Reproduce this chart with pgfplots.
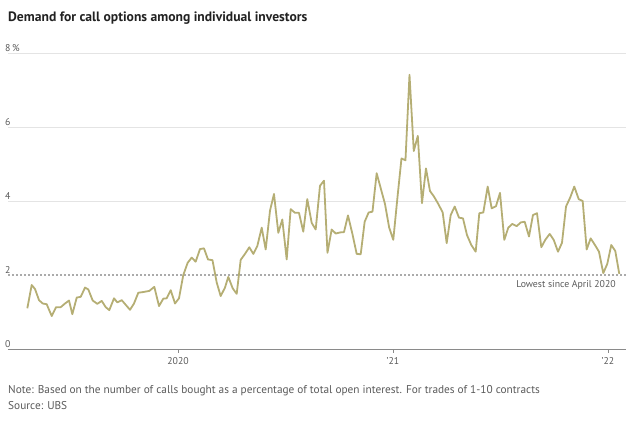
\documentclass[border=0pt]{standalone}
\usepackage{fontspec}
\setmainfont{PT Sans}
\usepackage{pgfplots}
\pgfplotsset{compat=1.18}
\usepackage{pgfplotstable}
\definecolor{linec}{HTML}{B5AE74}
\definecolor{txt}{HTML}{222222}
\definecolor{ticktxt}{HTML}{5A5A5A}
\definecolor{gridc}{HTML}{E4E4E4}
\definecolor{basec}{HTML}{8A8A8A}
\definecolor{dotc}{HTML}{ABABAB}

% px = horizontal position in the reference (2020 at 178, one year = 215), v = percent
\pgfplotstableread{
px v
27.3 1.10
31.7 1.73
35.0 1.62
39.0 1.32
42.7 1.23
46.7 1.21
51.7 0.89
56.0 1.13
60.7 1.13
65.0 1.23
69.0 1.31
72.3 0.94
76.7 1.39
80.7 1.41
85.0 1.66
88.3 1.61
92.7 1.31
97.3 1.22
101.7 1.30
105.7 1.13
109.3 1.05
114.0 1.37
117.3 1.26
121.7 1.32
125.5 1.20
130.0 1.06
134.0 1.23
138.3 1.52
143.3 1.54
149.3 1.57
154.3 1.68
159.0 1.16
163.3 1.36
166.7 1.37
170.7 1.59
175.0 1.23
179.0 1.37
183.3 2.00
187.7 2.33
191.7 2.47
195.7 2.36
200.0 2.70
204.0 2.72
208.0 2.42
212.5 2.40
216.7 1.80
220.7 1.43
225.0 1.66
228.3 1.95
232.7 1.64
236.7 1.49
240.7 2.41
245.0 2.57
249.3 2.75
253.3 2.57
257.3 2.78
261.7 3.28
265.7 2.69
270.0 3.74
274.0 4.19
278.3 3.14
282.3 3.50
286.7 2.42
290.7 3.78
295.0 3.68
299.0 3.68
303.3 3.17
307.3 4.05
311.7 3.41
315.7 3.23
320.0 4.41
324.0 4.55
327.5 2.60
331.7 3.23
335.8 3.12
340.0 3.15
344.0 3.16
348.0 3.61
352.5 3.10
356.7 2.57
360.7 2.56
364.7 3.44
368.7 3.69
372.5 3.71
376.7 4.75
380.8 4.34
385.0 3.92
389.2 3.28
393.3 2.95
397.5 4.10
401.5 5.15
405.5 5.10
409.5 7.41
413.8 5.35
417.8 5.76
422.0 3.94
426.0 4.88
430.0 4.27
434.0 4.12
438.3 3.92
442.7 3.69
446.7 2.86
450.7 3.62
454.7 3.85
459.0 3.55
463.0 3.53
467.0 3.08
471.3 2.81
475.7 2.63
479.3 3.67
483.3 3.69
487.7 4.39
491.7 3.80
496.0 3.86
500.0 4.22
504.3 2.95
508.3 3.28
512.3 3.38
516.7 3.32
520.7 3.42
524.7 3.44
529.0 3.04
533.0 3.62
537.0 3.67
541.3 2.75
545.3 2.95
549.7 3.11
553.7 2.95
558.0 2.63
562.0 2.87
566.0 3.85
570.3 4.10
574.3 4.39
578.7 4.05
582.7 4.00
586.7 2.69
590.7 2.99
595.0 2.81
599.0 2.63
603.3 2.05
607.3 2.30
611.3 2.81
615.3 2.65
619.3 2.03
}\calldata

\begin{document}
\begin{tikzpicture}[x=1pt,y=1pt]
\useasboundingbox (0,0) rectangle (630,423);
\node[anchor=west, font=\bfseries\fontsize{13.6}{15}\selectfont, text=txt, inner sep=0] at (8,405) {Demand for call options among individual investors};
\begin{axis}[
  at={(8pt,74pt)}, anchor=south west,
  scale only axis, width=618pt, height=296pt,
  xmin=2019.2093, xmax=2022.0837, ymin=0, ymax=8,
  axis x line*=bottom, axis y line*=left,
  x axis line style={draw=basec, line width=0.9pt, -},
  y axis line style={draw=none},
  xtick={2020,2021,2022}, xticklabels={2020,’21,’22},
  ytick={0,2,4,6,8}, yticklabels={0,2,4,6,8\,\%},
  tick align=outside, major tick length=4pt,
  xtick style={draw=basec, line width=0.8pt},
  ytick style={draw=none},
  /pgf/number format/assume math mode=true,
  xticklabel style={font=\fontsize{9.8}{11}\selectfont, text=ticktxt, yshift=-1pt},
  yticklabel style={font=\fontsize{9.8}{11}\selectfont, text=ticktxt, anchor=south west, inner sep=1pt, xshift=0pt},
  clip=false,
]
\draw[gridc, line width=0.7pt] (axis cs:2019.2093,4) -- (axis cs:2022.0837,4);
\draw[gridc, line width=0.7pt] (axis cs:2019.2093,6) -- (axis cs:2022.0837,6);
\draw[gridc, line width=0.7pt] (axis cs:2019.2093,8) -- (axis cs:2022.0837,8);
\draw[dotc, line width=1.6pt, dash pattern=on 1.6pt off 2.4pt] (axis cs:2019.2093,2) -- (axis cs:2022.0837,2);
\addplot[linec, line width=1.8pt, line join=round, mark=none] table[x expr={2020+(\thisrow{px}-178)/215}, y=v] {\calldata};
\node[anchor=east, font=\fontsize{9.8}{11}\selectfont, text=ticktxt, inner sep=0] at (axis cs:2022.037,1.73) {Lowest since April 2020};
\end{axis}
\node[anchor=west, font=\fontsize{11.3}{13}\selectfont, text=ticktxt, inner sep=0] at (8,32.3) {Note: Based on the number of calls bought as a percentage of total open interest. For trades of 1-10 contracts};
\node[anchor=west, font=\fontsize{11.3}{13}\selectfont, text=ticktxt, inner sep=0] at (8,17) {Source: UBS};
\end{tikzpicture}
\end{document}
